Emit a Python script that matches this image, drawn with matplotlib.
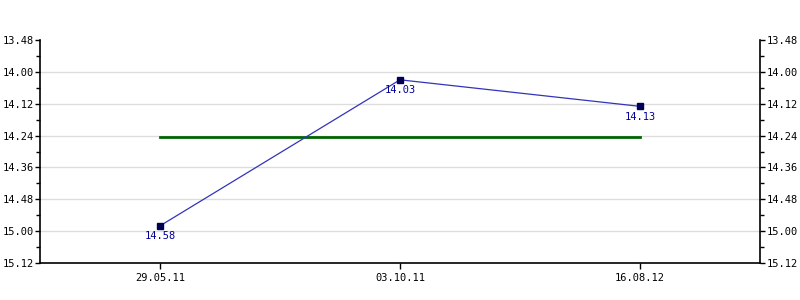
import matplotlib.pyplot as plt
from matplotlib.ticker import FuncFormatter, MultipleLocator

# times in seconds (shown as min.sec)
dates = ['29.05.11', '03.10.11', '16.08.12']
times = [898, 843, 853]
time_labels = ['14.58', '14.03', '14.13']
avg_time = 864.67

def fmt(v, pos):
    v = int(round(v))
    return '%d.%02d' % (v // 60, v % 60)

plt.rcParams['font.family'] = 'DejaVu Sans Mono'
plt.rcParams['font.size'] = 7.5

fig = plt.figure(figsize=(8, 3), dpi=100)
ax = fig.add_axes([0.05, 0.1233, 0.9, 0.7434])

x = list(range(len(dates)))
ax.plot(x, times, color='#3333bb', lw=0.9, zorder=3)
ax.plot(x, times, ls='none', marker='s', ms=4.5, mfc='#000055', mec='#000055', zorder=4)
ax.plot([x[0], x[-1]], [avg_time, avg_time], color='#006600', lw=2, zorder=2)

for xi, yi, lab in zip(x, times, time_labels):
    ax.annotate(lab, (xi, yi), xytext=(0, -4), textcoords='offset points',
                ha='center', va='top', color='#000099', fontsize=7.5)

ax.set_xlim(-0.5, 2.5)
ax.set_ylim(912, 828)
ax.set_xticks(x)
ax.set_xticklabels(dates)
ax.yaxis.set_major_locator(MultipleLocator(12))
ax.yaxis.set_minor_locator(MultipleLocator(6))
ax.yaxis.set_major_formatter(FuncFormatter(fmt))
ax.tick_params(axis='y', which='major', length=3.5, width=1, left=True, right=True,
               labelleft=True, labelright=True, pad=1)
ax.tick_params(axis='y', which='minor', length=3, width=1, left=True, right=True)
ax.tick_params(axis='x', length=4, width=1, pad=3)

# grid lines only inside the plot
for yv in range(840, 912, 12):
    ax.axhline(yv, color='#dddddd', lw=1, zorder=0)

ax.spines['top'].set_visible(False)
for s in ['left', 'right', 'bottom']:
    ax.spines[s].set_linewidth(1.2)

fig.savefig('out.png', dpi=100)
